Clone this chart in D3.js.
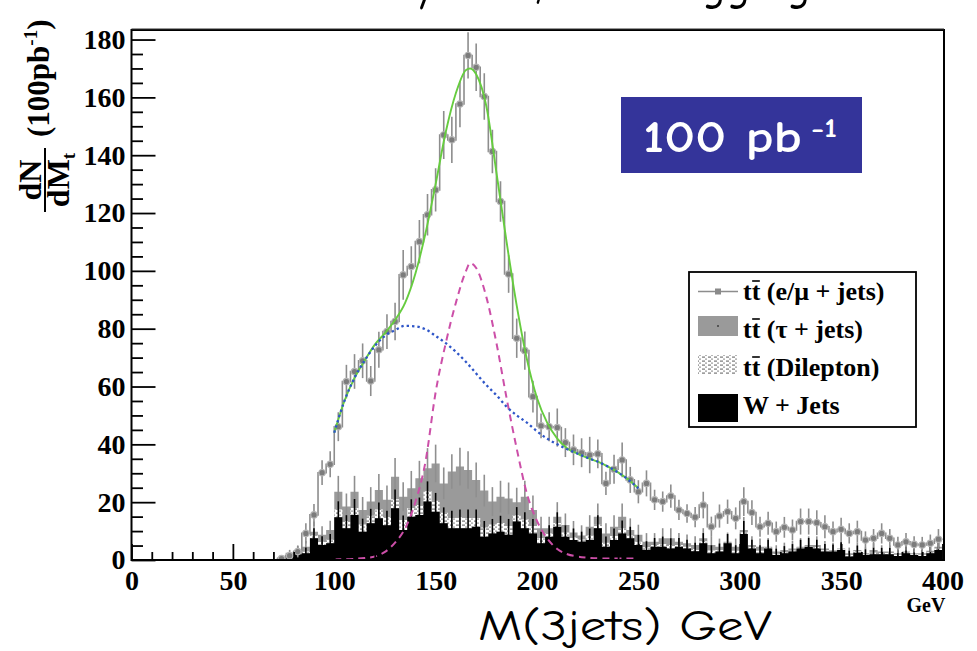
<!DOCTYPE html>
<html><head><meta charset="utf-8">
<script src="https://cdn.jsdelivr.net/npm/d3@7/dist/d3.min.js"></script>
<style>body{margin:0;background:#fff;overflow:hidden}</style>
</head><body>
<svg id="c" width="977" height="651"></svg>
<script>
// ---------------- DATA (4 GeV bins, 0-400 GeV) ----------------
const binWidth = 4;
const xTicks = [0, 50, 100, 150, 200, 250, 300, 350, 400];
const yTicks = [0, 20, 40, 60, 80, 100, 120, 140, 160, 180];

// tt (e/mu + jets) : stacked total
const total = [
 0,0,0,0,0,0,0,0,0,0,
 0,0,0,0,0,0,0,0,0.5,1.5,
 2.9,9.2,15.6,30.2,33.1,46.1,61.7,65.2,68.9,61.9,
 72.7,79,82.5,98.6,101.5,110.1,119.4,128,147,145.3,
 157.7,174.5,170.4,160.3,141.3,124,98.9,76.7,72.4,56.5,
 46.4,46.1,45.8,40.6,38.1,37.1,36.3,36.7,26.5,31.4,
 34.6,27.7,23.6,26.5,20.8,20.2,22.1,17.3,16.1,14.8,
 19,11.5,15.2,16.7,14.4,20.2,16.4,11.5,12.7,9.8,
 11.3,10.4,13.3,13.3,12.9,11.5,9.8,10.6,9.2,9.8,
 6.9,7.5,9.2,7.5,5.2,6.3,5.4,5.2,5.8,7.2
];
const totalErr = [
 0,0,0,0,0,0,0,0,0,0,
 0,0,0,0,0,0,0,0,0.5,1.2,
 2,3.5,3.8,4.3,4.5,5,5.8,6,6,5.2,
 6.2,6,6.5,8.6,7,7.5,7.2,7.5,8.3,8,
 8,8,8.2,8,7.5,7,6.5,6.8,6.6,5.5,
 4.3,5,6.6,5,5.3,5,6.3,5,4,5,
 6,4.5,4,4.5,3.5,3.5,4,3.5,3.2,3.5,
 4.6,3.5,4,4.2,3.8,5,4.3,3.5,4,3.5,
 3.6,3.6,4.5,4.5,4.3,4,3.5,4,3.5,3.8,
 3,3.2,3.5,3.2,2.8,3,2.8,2.8,3,3.5
];
// W + Jets (bottom of stack)
const wJets = [
 0,0,0,0,0,0,0,0,0,0,
 0,0,0,0,0,0,0,0,0.5,1.0,
 2,2.3,7.5,5.2,5.8,14.8,11,15.6,9.8,12.7,
 14.4,12,17.9,10.4,15,15.6,20.2,16.7,12.7,11,
 11,11,11.5,8,9.2,9.8,8.7,13.3,11,9.2,
 5.8,8,11.5,8,6.9,6.3,6.9,11,4.6,6.9,
 9.2,7.5,5.2,3.5,4.6,4.6,4,4.6,4,3,
 5.8,2.3,2.9,5.8,2.3,9,4,2.3,4,1.7,
 2.3,2.9,4,4.6,4,2.9,2.9,3.5,1.2,2.5,
 1.7,2,2,2,1.4,2.3,1.7,1.4,2.3,3.5
];
// W + Jets + tt (Dilepton), stacked top
const dilepStack = [
 0,0,0,0,0,0,0,0,0,0,
 0,0,0,0,0,0,0,0,0.6,1.3,
 2.4,2.9,8.5,6.3,7,17.5,13.5,18,12.3,15.3,
 17.5,14.8,21,13.8,18,19,23.8,20.5,16.3,14.5,
 14.8,14.5,14.5,11.2,12.3,12.8,11.8,15.5,14,11.8,
 7.6,9.2,12.8,9.5,7.8,7.1,8.5,12.3,6,8.3,
 11,8.5,6.3,4.4,5.2,5.5,5.2,5.2,4.6,3.8,
 6.5,3.3,3.5,6,3.2,9.6,4.5,3.2,4.3,2.2,
 2.8,3.3,4.2,4.8,4.5,3.4,3.2,3.7,1.7,3,
 2,2.6,2.4,2.4,1.8,2.6,2,1.8,2.7,4
];
// ... + tt (tau + jets), stacked top
const tauStack = [
 0,0,0,0,0,0,0,0,0,0,
 0,0,0,0,0,0,0,0,1,2.5,
 3.5,4.6,9.8,8.7,10.4,23.6,18.5,23.6,17.3,20.2,
 24.2,20.8,28.8,21.9,24.8,28.3,31.7,33.4,26.5,30.6,
 32.3,31.1,27.7,24,20.2,21.9,21.3,20,21.9,17.3,
 11,11,15,12.1,9.5,8.5,11.5,15,9.2,11.5,
 15,10.4,8.7,6.3,6.3,7.5,7.5,6.3,5.8,5.2,
 7.5,5.2,4.6,6.3,4.6,10.4,5.2,4.6,4.6,2.9,
 3.5,4,4.6,5.2,5.2,4,3.5,4,2.3,3.5,
 2.3,3.5,2.9,2.9,2.3,2.9,2.3,2.3,3.2,4.6
];
const bkgErr = [
 0,0,0,0,0,0,0,0,0,0,
 0,0,0,0,0,0,0,0,0.6,1,
 1.5,2,3.5,3,3.2,5.5,4.5,5.5,4.5,5,
 5.5,5,6.5,5,6,6,7,6.5,5.5,6,
 6.5,6.5,6,5.5,5,5.5,5.5,5,5.5,5,
 4,4,5,4,4,3.5,4,4.5,3.5,4,
 4.5,4,3.5,3,3,3.5,3.5,3,3,3,
 3.5,2.8,2.8,3.2,2.8,4.5,3,2.8,3,2.2,
 2.5,2.6,3,3,3,2.6,2.5,2.6,2,2.5,
 2,2.3,2.2,2.2,2,2.2,2,2,2.2,2.8
];
// fit curves [GeV, value]
const fitTotal = [[100,44],[105,55],[110,63],[115,69],[120,74.5],[125,78.5],[130,83],[135,89],[140,99],[145,113],[150,130],[155,148],[160,161.5],[165,169.5],[167,170],[170,168],[175,157],[180,134],[185,110],[190,88],[195,69.5],[200,56],[205,47.5],[210,42],[215,38.6],[220,36.8],[225,35.3],[230,34],[235,32.3],[240,30.3],[245,27.8],[250,24.8]];
const fitBkg = [[100,44],[105,55],[110,63],[115,69],[120,74],[125,77.5],[130,79.5],[135,81],[140,80.8],[145,79.8],[150,77.5],[155,75],[160,72],[165,68.5],[170,64.5],[175,60.5],[180,57],[185,53],[190,50],[195,47.5],[200,44.5],[205,42],[210,40],[215,38.3],[220,36.8],[225,35.3],[230,34],[235,32.3],[240,30.3],[245,27.8],[250,24.8]];
const fitSignal = [[100,0.2],[110,0.4],[115,0.7],[120,1.2],[125,2.8],[130,6],[135,11],[140,20],[145,34],[150,58],[155,75],[160,89],[165,100],[167,102.7],[170,101],[175,91],[180,75],[185,56],[190,38.5],[195,23],[200,13.5],[205,7.5],[210,3.8],[215,2],[220,1.2],[225,0.8],[235,0.5],[250,0.5]];

const legendLabels = ["(e/\u03bc + jets)", "(\u03c4 + jets)", "(Dilepton)", "W + Jets"];

// ---------------- DRAW ----------------
const svg = d3.select('#c');
const L = 131.5, R = 942.5, T = 30, B = 560;
const x = d3.scaleLinear().domain([0, 400]).range([L, R]);
const y = d3.scaleLinear().domain([0, 183.3]).range([B, T]);
const serif = '"Liberation Serif","Times New Roman",serif';
const comic = '"Comic Sans MS","Comic Neue","DejaVu Sans",sans-serif';

// helper: place a text so it spans exactly `w` px starting at (x0, y0)
function fitText(parent, str, x0, y0, w, attrs) {
  const g = parent.append('g');
  const t = g.append('text').attr('x', 0).attr('y', 0).text(str);
  Object.entries(attrs).forEach(([k, v]) => t.attr(k, v));
  const nat = t.node().getComputedTextLength();
  g.attr('transform', `translate(${x0},${y0}) scale(${w / nat},1)`);
  return t;
}

const defs = svg.append('defs');
defs.append('clipPath').attr('id','plotclip').append('rect')
  .attr('x', L).attr('y', T).attr('width', R - L + 1.5).attr('height', B - T);
const pat = defs.append('pattern').attr('id','dil').attr('patternUnits','userSpaceOnUse')
  .attr('width', 6).attr('height', 4);
pat.append('rect').attr('width',6).attr('height',4).attr('fill','#fff');
pat.append('rect').attr('x',0).attr('y',0.5).attr('width',3).attr('height',1.2).attr('fill','#777');
pat.append('rect').attr('x',3).attr('y',2.5).attr('width',2).attr('height',1.2).attr('fill','#999');

// partially visible title at the top (cut off by the image edge, as in the reference)
fitText(svg, 'Early data, no b-tagging', 336, -2, 475,
  {'font-family': comic, 'font-size': 56, 'fill': '#000'});

const edges = d3.range(total.length).map(i => i * binWidth);
const plot = svg.append('g').attr('clip-path', 'url(#plotclip)');

function stepPts(lo, hi) {
  const p = edges.map((e, i) => ({e, lo: lo ? lo[i] : 0, hi: hi[i]}));
  const n = hi.length - 1;
  p.push({e: edges[n] + binWidth, lo: lo ? lo[n] : 0, hi: hi[n]});
  return p;
}
const area = d3.area().curve(d3.curveStepAfter)
  .x(d => x(d.e)).y0(d => y(d.lo)).y1(d => y(d.hi));

function errBars(vals, errs, color, w) {
  plot.append('g').selectAll('line')
    .data(vals.map((v, i) => ({v, e: errs[i], c: edges[i] + binWidth / 2})).filter(d => d.v > 0))
    .join('line')
    .attr('x1', d => x(d.c)).attr('x2', d => x(d.c))
    .attr('y1', d => y(d.v - d.e)).attr('y2', d => y(d.v + d.e))
    .attr('stroke', color).attr('stroke-width', w);
}

// tau + jets (gray)
plot.append('path').attr('d', area(stepPts(null, tauStack))).attr('fill', '#9a9a9a');
errBars(tauStack, bkgErr, '#8f8f8f', 1.6);
// dilepton (hatched)
plot.append('path').attr('d', area(stepPts(wJets, dilepStack))).attr('fill', 'url(#dil)');
// W + jets (black)
plot.append('path').attr('d', area(stepPts(null, wJets))).attr('fill', '#000');
errBars(wJets, bkgErr, '#000', 1.6);

// total e/mu + jets
const line = d3.line().curve(d3.curveStepAfter).x(d => x(d.e)).y(d => y(d.hi));
plot.append('path').attr('d', line(stepPts(null, total)))
  .attr('fill', 'none').attr('stroke', '#8d8d8d').attr('stroke-width', 1.6);
errBars(total, totalErr, '#8d8d8d', 1.6);
plot.append('g').selectAll('circle')
  .data(total.map((v, i) => ({v, c: edges[i] + binWidth / 2})).filter(d => d.v > 0))
  .join('circle')
  .attr('cx', d => x(d.c)).attr('cy', d => y(d.v)).attr('r', 3.2)
  .attr('fill', '#7c7c7c').attr('stroke', '#b5b5b5').attr('stroke-width', 1.2);

// fit curves
const cl = d3.line().curve(d3.curveMonotoneX).x(d => x(d[0])).y(d => y(d[1]));
plot.append('path').attr('d', cl(fitSignal)).attr('fill','none')
  .attr('stroke', '#cc4fa8').attr('stroke-width', 2).attr('stroke-dasharray', '7,5');
plot.append('path').attr('d', cl(fitTotal)).attr('fill','none')
  .attr('stroke', '#66cc3f').attr('stroke-width', 1.9);
plot.append('path').attr('d', cl(fitBkg)).attr('fill','none')
  .attr('stroke', '#2f56c8').attr('stroke-width', 2.3).attr('stroke-dasharray', '2.4,3');

// axes
const yMinor = d3.range(0, 181, 5).filter(v => v % 20 !== 0);
const xMinor = d3.range(0, 401, 10).filter(v => v % 50 !== 0);
const gy = svg.append('g').attr('transform', `translate(${L},0)`)
  .call(d3.axisLeft(y).tickValues(yTicks).tickSizeInner(-24).tickSizeOuter(0).tickPadding(6));
const gym = svg.append('g').attr('transform', `translate(${L},0)`)
  .call(d3.axisLeft(y).tickValues(yMinor).tickSizeInner(-11.5).tickSizeOuter(0).tickFormat(''));
const gx = svg.append('g').attr('transform', `translate(0,${B})`)
  .call(d3.axisBottom(x).tickValues(xTicks).tickSizeInner(-16).tickSizeOuter(0).tickPadding(10));
const gxm = svg.append('g').attr('transform', `translate(0,${B})`)
  .call(d3.axisBottom(x).tickValues(xMinor).tickSizeInner(-8).tickSizeOuter(0).tickFormat(''));
[gy, gym, gx, gxm].forEach(g => {
  g.select('.domain').remove();
  g.selectAll('line').attr('stroke', '#000').attr('stroke-width', 1.8);
  g.selectAll('text').attr('font-family', serif).attr('font-weight', 'bold')
    .attr('font-size', 28).attr('fill', '#000');
});

// frame
svg.append('rect').attr('x', L).attr('y', T).attr('width', R - L + 1.5).attr('height', B - T)
  .attr('fill', 'none').attr('stroke', '#000').attr('stroke-width', 2);
svg.append('line').attr('x1', L).attr('x2', R + 1.5).attr('y1', T - 1).attr('y2', T - 1)
  .attr('stroke', '#333').attr('stroke-width', 1.2);

// "GeV" unit under axis end
svg.append('text').attr('x', 926).attr('y', 612).attr('text-anchor', 'middle')
  .attr('font-family', serif).attr('font-weight', 'bold').attr('font-size', 20).text('GeV');

// x title
fitText(svg, 'M(3jets) GeV', 478, 640, 294,
  {'font-family': comic, 'font-size': 42, 'fill': '#000'});

// y title (rotated)
const yt = svg.append('g').attr('transform', 'rotate(-90)')
  .attr('font-family', serif).attr('font-weight', 'bold').attr('fill', '#000');
const t1 = yt.append('text').attr('x', -137).attr('y', 49).attr('font-size', 31);
t1.append('tspan').text('(100pb');
t1.append('tspan').attr('font-size', 19).attr('dy', -12).text('-1');
t1.append('tspan').attr('dy', 12).text(')');
yt.append('text').attr('x', -180).attr('y', 41).attr('text-anchor', 'middle')
  .attr('font-size', 32).text('dN');
const t2 = yt.append('text').attr('x', -180).attr('y', 69).attr('text-anchor', 'middle').attr('font-size', 32);
t2.append('tspan').text('dM');
t2.append('tspan').attr('font-size', 19).attr('dy', 6).text('t');
yt.append('line').attr('x1', -212).attr('x2', -148).attr('y1', 45).attr('y2', 45)
  .attr('stroke', '#000').attr('stroke-width', 2);

// luminosity box
svg.append('rect').attr('x', 621).attr('y', 97).attr('width', 241).attr('height', 76).attr('fill', '#34349a');
fitText(svg, '100 pb', 643, 152, 159,
  {'font-family': comic, 'font-weight': 'bold', 'font-size': 45, 'fill': '#fff'});
fitText(svg, '-1', 811, 137, 26,
  {'font-family': comic, 'font-weight': 'bold', 'font-size': 26, 'fill': '#fff'});

// legend
const lg = svg.append('g');
lg.append('rect').attr('x', 689).attr('y', 272).attr('width', 227).attr('height', 155)
  .attr('fill', '#fff').attr('stroke', '#000').attr('stroke-width', 1.8);
const rowBase = [300, 338, 376, 414];
lg.append('line').attr('x1', 698).attr('x2', 738).attr('y1', 291.5).attr('y2', 291.5)
  .attr('stroke', '#8d8d8d').attr('stroke-width', 1.6);
lg.append('rect').attr('x', 715).attr('y', 288.5).attr('width', 6).attr('height', 6).attr('fill', '#8a8a8a');
lg.append('rect').attr('x', 698).attr('y', 316).attr('width', 40).attr('height', 20).attr('fill', '#9a9a9a');
lg.append('rect').attr('x', 717).attr('y', 325).attr('width', 2).attr('height', 2).attr('fill', '#555');
lg.append('rect').attr('x', 698).attr('y', 355).attr('width', 40).attr('height', 19).attr('fill', 'url(#dil)');
lg.append('rect').attr('x', 698).attr('y', 394).attr('width', 40).attr('height', 28).attr('fill', '#000');
legendLabels.forEach((lab, i) => {
  const t = lg.append('text').attr('x', 743).attr('y', rowBase[i])
    .attr('font-family', serif).attr('font-weight', 'bold').attr('font-size', 26).attr('fill', '#000');
  if (i < 3) {
    t.text('tt ' + lab);
    // overline on the second "t" (anti-top)
    const ext = t.node().getExtentOfChar(1);
    lg.append('line').attr('x1', ext.x + 0.5).attr('x2', ext.x + ext.width - 0.5)
      .attr('y1', rowBase[i] - 19).attr('y2', rowBase[i] - 19)
      .attr('stroke', '#000').attr('stroke-width', 1.6);
  } else {
    t.text(lab);
  }
});
</script>
</body></html>
